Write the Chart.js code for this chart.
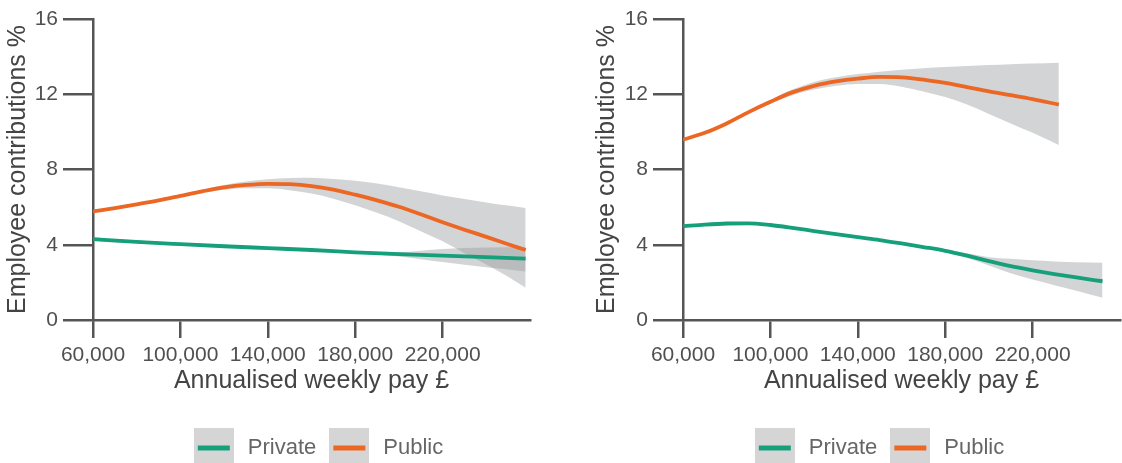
<!DOCTYPE html>
<html><head><meta charset="utf-8">
<script src="https://cdn.jsdelivr.net/npm/chart.js@4/dist/chart.umd.min.js"></script>
<style>
html,body{margin:0;padding:0;background:#fff;}
#wrap{position:relative;width:1122px;height:463px;overflow:hidden;background:#fff;}
canvas{position:absolute;top:0;}
</style></head><body>
<div id="wrap"><canvas id="c1" width="561" height="463" style="left:0"></canvas><canvas id="c2" width="561" height="463" style="left:561px"></canvas></div>
<script>
// ---- axes ----
const xTickValues = [60000, 100000, 140000, 180000, 220000];
const xTickLabels = ['60,000', '100,000', '140,000', '180,000', '220,000'];
const yTickValues = [0, 4, 8, 12, 16];
const xTitle = 'Annualised weekly pay £';
const yTitle = 'Employee contributions %';
const seriesNames = ['Private', 'Public'];

// ---- left panel ----
const leftPrivateX = [60000, 80000, 100000, 120000, 140000, 160000, 180000, 200000, 220000, 240000, 258000];
const leftPrivateY = [4.30, 4.15, 4.03, 3.92, 3.82, 3.72, 3.60, 3.50, 3.42, 3.34, 3.26];
const leftPrivateLo = [4.20, 4.08, 3.97, 3.87, 3.77, 3.66, 3.53, 3.38, 3.08, 2.80, 2.58];
const leftPrivateHi = [4.40, 4.22, 4.09, 3.97, 3.87, 3.78, 3.67, 3.62, 3.78, 3.85, 3.88];

const leftPublicX = [60000, 70000, 80000, 90000, 100000, 110000, 120000, 130000, 140000, 150000, 160000, 170000, 180000, 190000, 200000, 210000, 220000, 230000, 240000, 250000, 258000];
const leftPublicY = [5.77, 5.95, 6.15, 6.36, 6.60, 6.84, 7.05, 7.18, 7.24, 7.22, 7.12, 6.93, 6.66, 6.36, 6.02, 5.62, 5.20, 4.80, 4.42, 4.03, 3.72];
const leftPublicLo = [5.69, 5.88, 6.09, 6.30, 6.53, 6.75, 6.92, 7.00, 7.00, 6.90, 6.72, 6.45, 6.10, 5.70, 5.25, 4.72, 4.18, 3.55, 2.95, 2.30, 1.72];
const leftPublicHi = [5.85, 6.02, 6.21, 6.42, 6.67, 6.93, 7.18, 7.36, 7.48, 7.55, 7.56, 7.50, 7.40, 7.25, 7.05, 6.84, 6.62, 6.43, 6.25, 6.08, 5.96];

// ---- right panel ----
const rightPrivateX = [60000, 70000, 80000, 90000, 100000, 110000, 120000, 130000, 140000, 150000, 160000, 170000, 180000, 190000, 200000, 210000, 220000, 230000, 240000, 252000];
const rightPrivateY = [4.98, 5.07, 5.13, 5.14, 5.05, 4.90, 4.73, 4.56, 4.40, 4.25, 4.07, 3.88, 3.68, 3.42, 3.13, 2.86, 2.64, 2.44, 2.26, 2.06];
const rightPrivateLo = [4.92, 5.01, 5.07, 5.08, 4.99, 4.84, 4.67, 4.50, 4.34, 4.19, 4.01, 3.82, 3.60, 3.30, 2.90, 2.48, 2.15, 1.85, 1.55, 1.18];
const rightPrivateHi = [5.04, 5.13, 5.19, 5.20, 5.11, 4.96, 4.79, 4.62, 4.46, 4.31, 4.13, 3.94, 3.76, 3.55, 3.34, 3.25, 3.17, 3.11, 3.07, 3.04];

const rightPublicX = [60000, 70000, 80000, 90000, 100000, 110000, 120000, 130000, 140000, 150000, 160000, 170000, 180000, 190000, 200000, 210000, 220000, 232000];
const rightPublicY = [9.58, 9.95, 10.45, 11.05, 11.60, 12.10, 12.45, 12.68, 12.83, 12.92, 12.90, 12.78, 12.60, 12.38, 12.15, 11.95, 11.74, 11.45];
const rightPublicLo = [9.53, 9.90, 10.40, 10.98, 11.50, 11.95, 12.25, 12.45, 12.55, 12.55, 12.40, 12.15, 11.85, 11.45, 10.95, 10.45, 9.95, 9.30];
const rightPublicHi = [9.63, 10.00, 10.50, 11.12, 11.70, 12.25, 12.65, 12.90, 13.07, 13.20, 13.30, 13.38, 13.45, 13.50, 13.55, 13.60, 13.63, 13.68];

// ---- style ----
const GREEN = '#15a07b';
const ORANGE = '#ec6724';
const BAND = 'rgba(150,152,154,0.42)';
const AXIS = '#555555';
const FONT = "'Liberation Sans', Arial, sans-serif";

function pts(xs, ys) { return xs.map((x, i) => ({x: x, y: ys[i]})); }

function icon(color) {
  const c = document.createElement('canvas');
  c.width = 40; c.height = 40;
  const g = c.getContext('2d');
  g.fillStyle = '#d5d5d5';
  g.fillRect(0, 0, 40, 40);
  g.strokeStyle = color; g.lineWidth = 5;
  g.beginPath(); g.moveTo(4, 20); g.lineTo(36, 20); g.stroke();
  return c;
}
const icons = {Private: icon(GREEN), Public: icon(ORANGE)};

function lineDs(label, xs, ys, color) {
  return {label: label, data: pts(xs, ys), borderColor: color, backgroundColor: color,
    borderWidth: 3.8, pointRadius: 0, fill: false, cubicInterpolationMode: 'monotone', order: 1};
}
function bandDs(name, xs, ys, fillTarget) {
  return {label: name, data: pts(xs, ys), borderWidth: 0, borderColor: 'rgba(0,0,0,0)',
    backgroundColor: BAND, pointRadius: 0, fill: fillTarget, cubicInterpolationMode: 'monotone', order: 5};
}

const legendShift = {
  id: 'legendShift',
  afterLayout(chart) {
    const lg = chart.legend;
    const dx = 317 - (lg.left + lg.right) / 2;
    lg.left += dx; lg.right += dx;
    lg.top += 6; lg.bottom += 6;
  }
};

function makeChart(id, cfg) {
  const ds = [
    lineDs(seriesNames[0], cfg.privX, cfg.privY, GREEN),
    lineDs(seriesNames[1], cfg.pubX, cfg.pubY, ORANGE),
    bandDs('pubHi', cfg.pubX, cfg.pubHi, '+1'),
    bandDs('pubLo', cfg.pubX, cfg.pubLo, false),
    bandDs('privHi', cfg.privX, cfg.privHi, '+1'),
    bandDs('privLo', cfg.privX, cfg.privLo, false)
  ];
  return new Chart(document.getElementById(id), {
    type: 'line',
    data: {datasets: ds},
    plugins: [legendShift],
    options: {
      responsive: false, animation: false, devicePixelRatio: 1,
      layout: {padding: {top: 19, right: cfg.padRight, bottom: 0, left: 0}},
      plugins: {
        tooltip: {enabled: false},
        legend: {
          position: 'bottom', align: 'center',
          labels: {
            usePointStyle: true, pointStyleWidth: 46, padding: 10,
            color: '#666666', font: {family: FONT, size: 22},
            filter: (item) => seriesNames.includes(item.text),
            generateLabels: (chart) => {
              const items = Chart.defaults.plugins.legend.labels.generateLabels(chart);
              items.forEach(it => { if (icons[it.text]) it.pointStyle = icons[it.text]; });
              return items;
            }
          }
        }
      },
      scales: {
        x: {
          type: 'linear', min: 60000, max: 260000,
          afterBuildTicks: (s) => { s.ticks = xTickValues.map(v => ({value: v})); },
          afterFit: (s) => { s.height = 101; },
          ticks: {
            autoSkip: false, maxRotation: 0, padding: 5, color: '#505050',
            font: {family: FONT, size: 21},
            callback: (v) => { const i = xTickValues.indexOf(v); return i >= 0 ? xTickLabels[i] : ''; }
          },
          grid: {display: true, drawOnChartArea: false, drawTicks: true, tickLength: 18, color: AXIS, lineWidth: 2.5},
          border: {display: true, color: AXIS, width: 2.5},
          title: {display: true, text: xTitle, color: '#444444', font: {family: FONT, size: 25}, padding: {top: 0, bottom: 25}}
        },
        y: {
          type: 'linear', min: 0, max: 16,
          afterBuildTicks: (s) => { s.ticks = yTickValues.map(v => ({value: v})); },
          afterFit: (s) => { s.width = cfg.yWidth; },
          ticks: {padding: 5, color: '#505050', font: {family: FONT, size: 21}},
          grid: {display: true, drawOnChartArea: false, drawTicks: true, tickLength: 30, color: AXIS, lineWidth: 2.5},
          border: {display: true, color: AXIS, width: 2.5},
          title: {display: true, text: yTitle, color: '#444444', font: {family: FONT, size: 25}, padding: {top: cfg.yTitlePad, bottom: 0}}
        }
      }
    }
  });
}

makeChart('c1', {privX: leftPrivateX, privY: leftPrivateY, privLo: leftPrivateLo, privHi: leftPrivateHi,
  pubX: leftPublicX, pubY: leftPublicY, pubLo: leftPublicLo, pubHi: leftPublicHi,
  padRight: 31, yWidth: 93, yTitlePad: 3});
makeChart('c2', {privX: rightPrivateX, privY: rightPrivateY, privLo: rightPrivateLo, privHi: rightPrivateHi,
  pubX: rightPublicX, pubY: rightPublicY, pubLo: rightPublicLo, pubHi: rightPublicHi,
  padRight: 2, yWidth: 122, yTitlePad: 31});
</script>
</body></html>
